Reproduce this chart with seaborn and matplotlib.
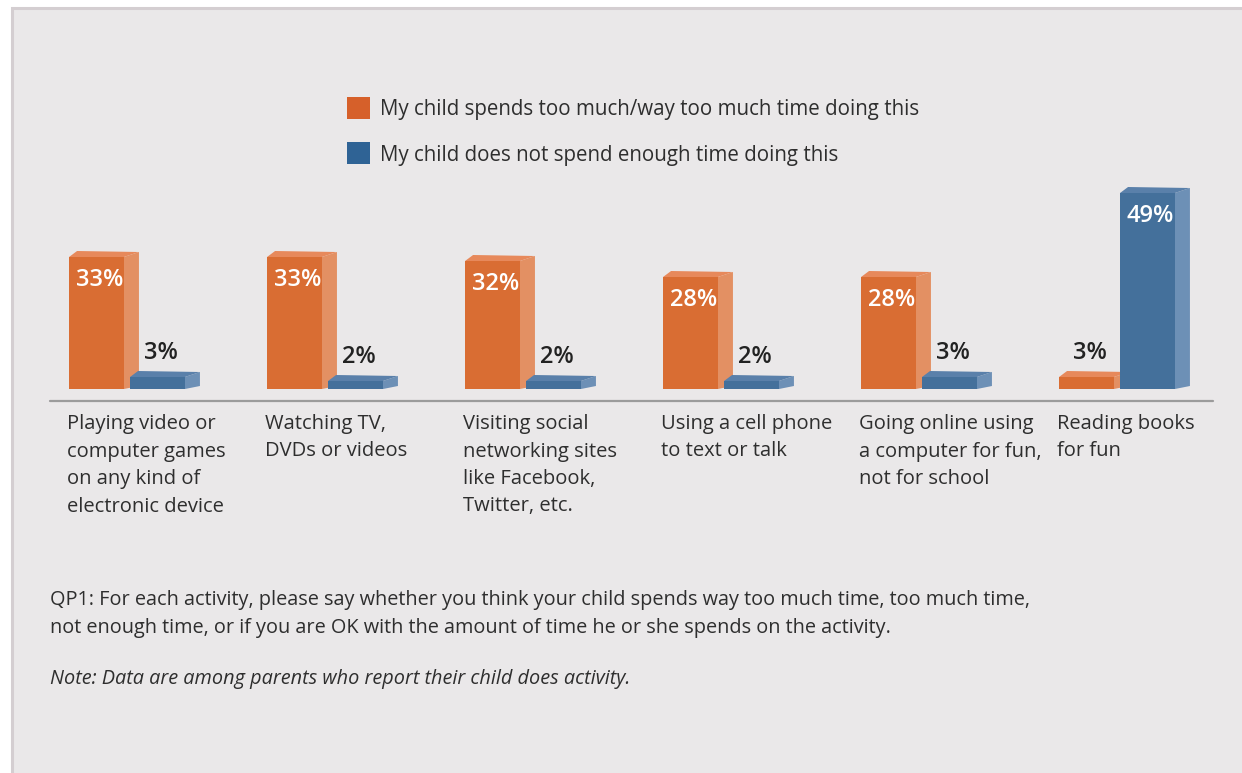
import matplotlib
matplotlib.use("Agg")
import matplotlib.pyplot as plt
import matplotlib.transforms as mtransforms
from matplotlib.patches import Polygon, Rectangle
import seaborn as sns
import pandas as pd
import numpy as np

# ---------------- data ----------------
categories = [
    "Playing video or\ncomputer games\non any kind of\nelectronic device",
    "Watching TV,\nDVDs or videos",
    "Visiting social\nnetworking sites\nlike Facebook,\nTwitter, etc.",
    "Using a cell phone\nto text or talk",
    "Going online using\na computer for fun,\nnot for school",
    "Reading books\nfor fun",
]
too_much = [33, 33, 32, 28, 28, 3]
not_enough = [3, 2, 2, 2, 3, 49]
series_names = [
    "My child spends too much/way too much time doing this",
    "My child does not spend enough time doing this",
]
note_q = ("QP1: For each activity, please say whether you think your child spends way too much time, too much time,\n"
          "not enough time, or if you are OK with the amount of time he or she spends on the activity.")
note_n = "Note: Data are among parents who report their child does activity."

# ---------------- style ----------------
ORANGE, BLUE = "#D96D33", "#44709B"
ORANGE_SIDE, BLUE_SIDE = "#E39063", "#6D90B6"
ORANGE_TOP, BLUE_TOP = "#E7895B", "#5A80AA"
LEG_ORANGE, LEG_BLUE = "#D6602A", "#2F6395"
BG, FRAME = "#EAE8E9", "#D4CED1"
TXT = "#2E2E2E"

sns.set_theme(style="white")
plt.rcParams["font.family"] = ["Open Sans", "DejaVu Sans"]

W, H = 1242, 773
fig = plt.figure(figsize=(W / 100, H / 100), dpi=100, facecolor="white")

# frame / background
fig.patches.append(Rectangle((11.5 / W, -0.01), (W - 11.5) / W + 0.02, (H - 7.5) / H + 0.01,
                             transform=fig.transFigure, facecolor=BG, edgecolor=FRAME,
                             linewidth=2.2, zorder=-5))

def fy(py):
    return 1 - py / H

ax_left, ax_right = 28, 1216
ax_bottom, ax_top = 401, 161
ax = fig.add_axes([ax_left / W, fy(ax_bottom), (ax_right - ax_left) / W, (ax_bottom - ax_top) / H])
ax.set_facecolor("none")
ax.set_zorder(2)

df = pd.DataFrame({
    "category": categories * 2,
    "series": [series_names[0]] * len(categories) + [series_names[1]] * len(categories),
    "value": too_much + not_enough,
})

sns.barplot(data=df, x="category", y="value", hue="series", palette=[ORANGE, BLUE],
            width=0.616, gap=0.1, saturation=1, legend=False, ax=ax, linewidth=0, zorder=3)
ax.set_xlim(-0.5, len(categories) - 0.5)
ax.set_ylim(-3, 57)
ax.set_axis_off()

fig.canvas.draw()
p0 = ax.transData.transform((0, 0))
p1 = ax.transData.transform((1, 1))
ux = 1.0 / (p1[0] - p0[0])   # data units per pixel in x
uy = 1.0 / (p1[1] - p0[1])   # data units per pixel in y

bars = [p for p in ax.patches if isinstance(p, Rectangle)]
for b in bars:
    x, w, h = b.get_x(), b.get_width(), b.get_height()
    is_orange = np.allclose(b.get_facecolor()[:3], matplotlib.colors.to_rgb(ORANGE), atol=0.02)
    side_c = ORANGE_SIDE if is_orange else BLUE_SIDE
    top_c = ORANGE_TOP if is_orange else BLUE_TOP
    # side face
    side = [(x + w, 0), (x + w, h), (x + w + 15 * ux, h + 5 * uy), (x + w + 15 * ux, 0 + 3 * uy)]
    ax.add_patch(Polygon(side, closed=True, facecolor=side_c, edgecolor="none", zorder=2))
    # top face
    top = [(x, h), (x + 8 * ux, h + 6 * uy), (x + w + 15 * ux, h + 5 * uy), (x + w, h)]
    ax.add_patch(Polygon(top, closed=True, facecolor=top_c, edgecolor="none", zorder=2))
    # value label
    cx = x + w / 2
    if h >= 10:
        ax.text(cx + 3 * ux, h - 23 * uy, f"{int(round(h))}%", ha="center", va="center", color="white",
                fontsize=17, fontweight="semibold", zorder=5)
    else:
        ax.text(cx + 3 * ux, h + 24 * uy, f"{int(round(h))}%", ha="center", va="center", color="#222222",
                fontsize=17, fontweight="semibold", zorder=5)

# axis line
ax.axhline(-3, xmin=(50 - ax_left) / (ax_right - ax_left), xmax=(1213 - ax_left) / (ax_right - ax_left),
           color="#9B9B9B", linewidth=1.6, clip_on=False, zorder=1)

# category labels (left aligned under the first bar of each group)
blend = mtransforms.blended_transform_factory(ax.transData, fig.transFigure)
first = bars[:len(categories)]
for b, lab in zip(first, categories):
    ax.text(b.get_x() - 2 * ux, fy(414), lab, transform=blend, ha="left", va="top",
            fontsize=14.5, color=TXT, linespacing=1.5, zorder=5)

# legend
for i, (name, c) in enumerate(zip(series_names, [LEG_ORANGE, LEG_BLUE])):
    yc = 108 + i * 45
    fig.patches.append(Rectangle((347 / W, fy(yc + 11)), 23 / W, 22 / H, transform=fig.transFigure,
                                 facecolor=c, edgecolor="none", zorder=3))
    fig.text(380 / W, fy(yc + 2), name, ha="left", va="center", fontsize=14.8, color=TXT)

# notes
fig.text(50 / W, fy(590), note_q, ha="left", va="top", fontsize=14.3, color=TXT, linespacing=1.55)
fig.text(50 / W, fy(679), note_n, ha="left", va="center", fontsize=14.3, color=TXT, style="italic")

fig.savefig("out.png", dpi=100, facecolor="white")
